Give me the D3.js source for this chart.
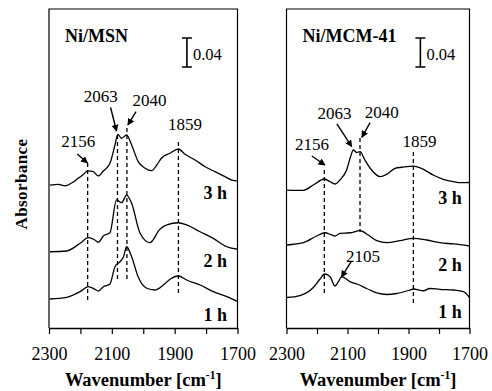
<!DOCTYPE html>
<html><head><meta charset="utf-8">
<script src="https://cdn.jsdelivr.net/npm/d3@7"></script>
<style>body{margin:0;background:#fff}svg{display:block}</style>
</head><body><svg id="c" width="492" height="391"></svg>
<script>
// ---------- DATA ----------
const xTicks = [2300, 2200, 2100, 2000, 1900, 1800, 1700];
const xTickLabels = ["2300", "", "2100", "", "1900", "", "1700"];
const panelTitles = ["Ni/MSN", "Ni/MCM-41"];
const seriesNames = ["3 h", "2 h", "1 h"];
const scaleBarValue = 0.04;

// Ni/MSN spectra (wavenumber, stacked absorbance)
const msn3h = [[2297,0.197],[2270,0.198],[2249,0.196],[2228,0.200],[2207,0.2065],[2190,0.212],[2177,0.2166],[2159,0.2156],[2143,0.2097],[2127,0.2166],[2106,0.2272],[2090,0.2524],[2081,0.2672],[2069,0.2617],[2053,0.2662],[2037,0.2524],[2016,0.2294],[1994,0.2203],[1973,0.2170],[1957,0.2248],[1941,0.2349],[1915,0.2410],[1888,0.2469],[1867,0.2396],[1835,0.2317],[1803,0.2225],[1772,0.2156],[1740,0.2087],[1718,0.2041],[1700,0.2028]];
const msn2h = [[2297,0.1052],[2244,0.1062],[2201,0.1168],[2175,0.1246],[2154,0.1214],[2143,0.1182],[2127,0.1269],[2106,0.1314],[2085,0.1766],[2069,0.1728],[2053,0.1834],[2037,0.1720],[2010,0.1306],[1979,0.1177],[1947,0.1361],[1925,0.1421],[1888,0.1452],[1862,0.1421],[1819,0.1328],[1777,0.1237],[1734,0.1121],[1700,0.1086]];
const msn1h = [[2297,0.040],[2244,0.0423],[2201,0.0501],[2175,0.0570],[2154,0.0534],[2143,0.051],[2127,0.0570],[2106,0.0607],[2090,0.0846],[2079,0.0897],[2071,0.0928],[2063,0.0983],[2053,0.1121],[2037,0.0983],[2016,0.0703],[1989,0.0548],[1963,0.0524],[1936,0.0593],[1915,0.0672],[1888,0.0717],[1862,0.0662],[1819,0.0593],[1777,0.0501],[1734,0.0432],[1700,0.0366]];

// Ni/MCM-41 spectra
const mcm3h = [[2299,0.1903],[2245,0.1899],[2212,0.1972],[2176,0.2055],[2157,0.2018],[2141,0.1986],[2125,0.2041],[2103,0.2179],[2090,0.2363],[2081,0.2455],[2070,0.2421],[2059,0.2434],[2043,0.2317],[2021,0.2179],[1993,0.2087],[1971,0.2120],[1944,0.2203],[1922,0.2217],[1884,0.2234],[1851,0.2189],[1819,0.2110],[1786,0.2051],[1753,0.2018],[1726,0.2004],[1700,0.2007]];
const mcm2h = [[2299,0.1145],[2245,0.1177],[2201,0.1269],[2174,0.1314],[2152,0.1283],[2141,0.1269],[2125,0.1306],[2092,0.1314],[2059,0.1342],[2032,0.1283],[2004,0.1204],[1971,0.1177],[1928,0.1204],[1884,0.1237],[1840,0.1214],[1797,0.1177],[1753,0.1159],[1700,0.1131]];
const mcm1h = [[2299,0.0421],[2256,0.0448],[2212,0.0559],[2190,0.0676],[2175,0.0745],[2157,0.0708],[2141,0.0579],[2130,0.0639],[2119,0.0710],[2092,0.0639],[2069,0.0607],[2037,0.0545],[2004,0.0483],[1971,0.0462],[1939,0.0476],[1895,0.0524],[1884,0.0538],[1851,0.0514],[1830,0.0545],[1797,0.0534],[1753,0.0524],[1720,0.0501],[1700,0.0421]];

// marker (dashed) lines: position, top, bottom
const msnMarkers = [[2177,0.2276,0.0386],[2082,0.2662,0.0676],[2052,0.2759,0.0676],[1888,0.2566,0.0469]];
const mcmMarkers = [[2176,0.2179,0.0455],[2059,0.2621,0.1324],[1884,0.2428,0.0345]];

// peak labels: text, label pos (wn, A), optional arrow from -> to
const msnPeaks = [
  {t:"2156", x:2207, y:0.2501, a:[2210,0.240,2177.5,0.2276]},
  {t:"2063", x:2135, y:0.3121, a:[2104,0.3041,2085,0.2717]},
  {t:"2040", x:1980, y:0.3062, a:[2023,0.2986,2049,0.2800]},
  {t:"1859", x:1867, y:0.2731, a:null}
];
const mcmPeaks = [
  {t:"2156", x:2216, y:0.2455, a:[2217,0.2372,2174,0.2248]},
  {t:"2063", x:2143, y:0.2879, a:[2135,0.2814,2086,0.2501]},
  {t:"2040", x:1988, y:0.2901, a:[2026,0.2832,2053,0.2630]},
  {t:"1859", x:1864, y:0.2501, a:null},
  {t:"2105", x:2049, y:0.0910, a:[2088,0.0917,2120,0.0703]}
];
const msnTimeLabelPos = [[1733,0.178],[1733,0.084],[1733,0.0097]];
const mcmTimeLabelPos = [[1725,0.171],[1725,0.0786],[1725,0.0138]];

// ---------- DRAW ----------
const FF = "'Liberation Serif', 'Times New Roman', serif";
const svg = d3.select("#c").attr("font-family", FF);
const y = d3.scaleLinear().domain([0, 0.44]).range([328, 9]);

svg.append("defs").append("marker")
  .attr("id","ah").attr("viewBox","0 0 10 10").attr("refX",9).attr("refY",5)
  .attr("markerWidth",7).attr("markerHeight",7).attr("markerUnits","userSpaceOnUse")
  .attr("orient","auto")
  .append("path").attr("d","M0,0 L10,5 L0,10 Z").attr("fill","#000");

const panels = [
  {range:[49,237.5], title:panelTitles[0], series:[msn3h,msn2h,msn1h], markers:msnMarkers, peaks:msnPeaks, tl:msnTimeLabelPos},
  {range:[286.5,469.5], title:panelTitles[1], series:[mcm3h,mcm2h,mcm1h], markers:mcmMarkers, peaks:mcmPeaks, tl:mcmTimeLabelPos}
];

function txt(g){ return g.append("text").attr("font-family",FF).attr("fill","#000"); }

panels.forEach(p => {
  const x = d3.scaleLinear().domain([2300,1700]).range(p.range);
  const g = svg.append("g");
  g.append("path")
    .attr("d", `M${p.range[0]},${y(0)} V${y(0.44)} H${p.range[1]} V${y(0)}`)
    .attr("fill","none").attr("stroke","#000").attr("stroke-width",1.2);
  const ax = g.append("g").attr("transform",`translate(0,${y(0)})`)
    .call(d3.axisBottom(x).tickValues(xTicks).tickSize(6).tickSizeOuter(0)
      .tickFormat((d,i)=>xTickLabels[i]));
  ax.attr("font-family",FF);
  ax.select(".domain").attr("stroke-width",1.4);
  ax.selectAll(".tick line").attr("stroke-width",1.2);
  ax.selectAll(".tick text").attr("font-family",FF)
    .attr("font-size",18).attr("dy",null).attr("y",32);
  const t = txt(g).attr("x",(p.range[0]+p.range[1])/2).attr("y",386)
    .attr("text-anchor","middle").attr("font-weight","bold").attr("font-size",18.5);
  t.append("tspan").text("Wavenumber [cm");
  t.append("tspan").text("-1").attr("font-size",11.5).attr("dy",-7);
  t.append("tspan").text("]").attr("dy",7);
  txt(g).attr("x",p.range[0]+16).attr("y",41.7).attr("font-weight","bold")
    .attr("font-size",18).text(p.title);
  const sb = x(1861);
  g.append("path").attr("d",`M${sb-5},${y(0.40)} H${sb+5} M${sb},${y(0.40)} V${y(0.40-scaleBarValue)} M${sb-5},${y(0.40-scaleBarValue)} H${sb+5}`)
    .attr("stroke","#000").attr("stroke-width",1.6).attr("fill","none");
  txt(g).attr("x",sb+6).attr("y",60).attr("font-size",16.5).text(scaleBarValue.toFixed(2));
  p.markers.forEach(m => {
    g.append("line").attr("x1",x(m[0])).attr("x2",x(m[0])).attr("y1",y(m[1])).attr("y2",y(m[2]))
      .attr("stroke","#000").attr("stroke-width",1.3).attr("stroke-dasharray","4,3");
  });
  const line = d3.line().x(d=>x(d[0])).y(d=>y(d[1])).curve(d3.curveMonotoneX);
  p.series.forEach(s => {
    g.append("path").attr("d",line(s)).attr("fill","none").attr("stroke","#000").attr("stroke-width",1.3);
  });
  p.peaks.forEach(pk => {
    txt(g).attr("x",x(pk.x)).attr("y",y(pk.y)).attr("text-anchor","middle")
      .attr("font-size",17).text(pk.t);
    if (pk.a) {
      g.append("line").attr("x1",x(pk.a[0])).attr("y1",y(pk.a[1])).attr("x2",x(pk.a[2])).attr("y2",y(pk.a[3]))
        .attr("stroke","#000").attr("stroke-width",1.4).attr("marker-end","url(#ah)");
    }
  });
  seriesNames.forEach((n,i) => {
    txt(g).attr("x",x(p.tl[i][0])).attr("y",y(p.tl[i][1])).attr("text-anchor","end")
      .attr("font-weight","bold").attr("font-size",18).text(n);
  });
});

txt(svg).attr("transform","translate(27,184) rotate(-90)").attr("text-anchor","middle")
  .attr("font-weight","bold").attr("font-size",17).attr("letter-spacing",0.4).text("Absorbance");
</script></body></html>
